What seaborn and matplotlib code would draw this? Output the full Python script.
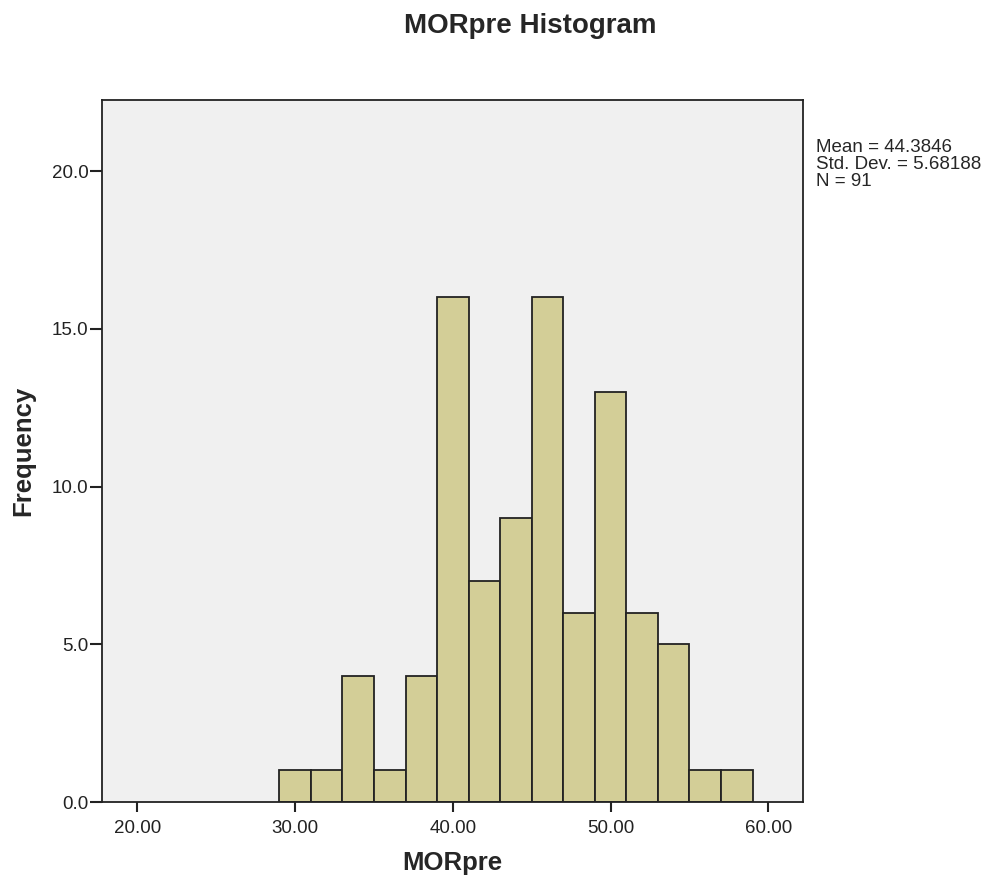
import matplotlib
matplotlib.use("Agg")
import matplotlib.pyplot as plt
import seaborn as sns
import numpy as np

bin_edges = [29, 31, 33, 35, 37, 39, 41, 43, 45, 47, 49, 51, 53, 55, 57, 59]
counts = [1, 1, 4, 1, 4, 16, 7, 9, 16, 6, 13, 6, 5, 1, 1]
x_ticks = [20, 30, 40, 50, 60]
y_ticks = [0, 5, 10, 15, 20]
stats_text = "Mean = 44.3846\nStd. Dev. = 5.68188\nN = 91"

mids = [(bin_edges[i] + bin_edges[i + 1]) / 2 for i in range(len(counts))]

sns.set_style("white")
plt.rcParams['font.family'] = ['Liberation Sans', 'DejaVu Sans']

fig = plt.figure(figsize=(9.87, 8.86), dpi=100)
ax = fig.add_axes([0.1033, 0.0948, 0.7103, 0.7923])
ax.set_facecolor("#F0F0F0")

sns.histplot(x=mids, weights=counts, bins=bin_edges, ax=ax,
             color="#D3CE97", alpha=1.0, edgecolor="#222222", linewidth=1.3)

ax.set_xlim(17.75, 62.2)
ax.set_ylim(0, 22.25)
ax.set_xticks(x_ticks)
ax.set_xticklabels([f"{v:.2f}" for v in x_ticks], fontsize=13.5, color="#222222")
ax.set_yticks(y_ticks)
ax.set_yticklabels([f"{v:.1f}" for v in y_ticks], fontsize=13.5, color="#222222")
ax.tick_params(axis="x", which="major", bottom=True, top=False,
               direction="out", length=7.2, width=1.5, color="#222222", pad=5.5)
ax.tick_params(axis="y", which="major", left=True, right=False,
               direction="out", length=8.3, width=1.5, color="#222222", pad=1.5)
for s in ax.spines.values():
    s.set_visible(True)
    s.set_color("#222222")
    s.set_linewidth(1.3)

ax.set_xlabel("MORpre", fontsize=18.5, fontweight="bold", labelpad=10)
ax.set_ylabel("Frequency", fontsize=18.5, fontweight="bold", labelpad=12)

fig.text(530 / 987, 1 - 26 / 886, "MORpre Histogram", ha="center", va="center",
         fontsize=20, fontweight="bold")
fig.text(816 / 987, 1 - 139 / 886, stats_text, ha="left", va="top",
         fontsize=13.5, linespacing=1.0)

fig.savefig("out.png", dpi=100)
